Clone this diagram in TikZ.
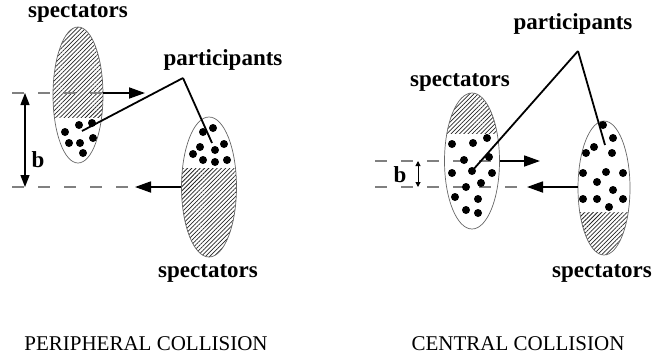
\documentclass[tikz,border=0pt]{standalone}
\usepackage{fontspec}
\setmainfont{Liberation Serif}
\usetikzlibrary{shapes.geometric, patterns.meta, arrows.meta}

\tikzset{
  nucleus/.style={ellipse, draw=black!60, line width=0.7pt, inner sep=0pt},
  hatch/.style={pattern={Lines[angle=45,distance=3pt,line width=0.75pt]}, pattern color=black!85},
  hatchtop/.style={path picture={\path[hatch] (path picture bounding box.north west) rectangle ([yshift=#1]path picture bounding box.east);}},
  hatchbot/.style={path picture={\path[hatch] ([yshift=#1]path picture bounding box.west) rectangle (path picture bounding box.south east);}},
  guide/.style={draw=black!50, line width=1.4pt, dash pattern=on 12pt off 14pt},
  beam/.style={draw, line width=1.8pt, -{Triangle[length=16pt,width=11pt]}},
  gap/.style={draw, line width=1.3pt, {Triangle[length=12pt,width=9pt]}-{Triangle[length=12pt,width=9pt]}},
  smallgap/.style={draw, line width=1pt, {Triangle[length=5pt,width=5pt]}-{Triangle[length=5pt,width=5pt]}},
  pointer/.style={draw, line width=1.8pt},
  lbl/.style={font=\bfseries\fontsize{23}{26}\selectfont, inner sep=0pt, anchor=base},
  caption/.style={font=\fontsize{21}{24}\selectfont, inner sep=0pt, anchor=base},
  nucleon/.style={fill=black}
}

\begin{document}
\begin{tikzpicture}[x=1pt, y=-1pt]
\useasboundingbox (0,0) rectangle (655,360);

% ---------- peripheral collision ----------
\coordinate (pA) at (12,93);
\coordinate (pB) at (12,187);
\coordinate (pAhead) at (145,93);
\coordinate (pBhead) at (135,187);
\coordinate (pgapTop) at (25,93);
\coordinate (pgapBot) at (25,187);

\node[nucleus, hatchtop=-22pt, minimum width=50pt, minimum height=136pt] (pa) at (78,95) {};
\node[nucleus, hatchbot=19pt, minimum width=55pt, minimum height=140pt] (pb) at (209,187) {};

\draw[guide] (pA) -- (pa.east |- pA);
\draw[guide] (pB) -- (pBhead);
\draw[beam] (pa.east |- pA) -- (pAhead);
\draw[beam] (pb.west |- pB) -- (pBhead);
\draw[gap] (pgapTop) -- (pgapBot);
\node[lbl] (pbval) at (38,167) {b};

\foreach \p in {(65,132),(79,125),(92,123),(69,143),(80,143),(93,138),(83,153)}
  \fill[nucleon] \p circle (4pt);
\foreach \p in {(203,132),(213,128),(200,147),(215,150),(224,144),(193,154),(203,160),(215,162),(227,160)}
  \fill[nucleon] \p circle (4pt);

\node[lbl] (pspecA) at (78,17) {spectators};
\node[lbl] (pspecB) at (208,277) {spectators};
\node[lbl] (ppart) at (223,65) {participants};
\coordinate (pfoot) at (183,78);
\coordinate (phitA) at (82,131);
\coordinate (phitB) at (212,143);
\draw[pointer] (pfoot) -- (phitA);
\draw[pointer] (pfoot) -- (phitB);

\node[caption] (pcap) at (146,350) {PERIPHERAL COLLISION};

% ---------- central collision ----------
\coordinate (cA) at (375,161);
\coordinate (cB) at (375,187);
\coordinate (cAhead) at (540,161);
\coordinate (cBhead) at (527,187);
\coordinate (cgapTop) at (418,161);
\coordinate (cgapBot) at (418,187);

\node[nucleus, hatchtop=28pt, minimum width=55pt, minimum height=136pt] (ca) at (472,161) {};
\node[nucleus, hatchbot=-24pt, minimum width=52pt, minimum height=134pt] (cb) at (604,188) {};

\draw[guide] (cA) -- (ca.east |- cA);
\draw[guide] (cB) -- (cBhead);
\draw[beam] (ca.east |- cA) -- (cAhead);
\draw[beam] (cb.west |- cB) -- (cBhead);
\draw[smallgap] (cgapTop) -- (cgapBot);
\node[lbl] (cbval) at (400,182) {b};

\foreach \p in {(452,144),(473,143),(487,138),(464,160),(489,157),(452,173),(472,171),(492,173),(466,187),(481,183),(455,197),(478,199),(466,210),(478,213)}
  \fill[nucleon] \p circle (4pt);
\foreach \p in {(603,125),(613,138),(594,147),(586,153),(612,153),(583,173),(606,172),(623,173),(597,182),(613,190),(583,199),(597,199),(609,207),(623,199)}
  \fill[nucleon] \p circle (4pt);

\node[lbl] (cspecA) at (460,86) {spectators};
\node[lbl] (cspecB) at (602,277) {spectators};
\node[lbl] (cpart) at (573,29) {participants};
\coordinate (cfoot) at (578,51);
\coordinate (chitA) at (472,171);
\coordinate (chitB) at (605,145);
\draw[pointer] (cfoot) -- (chitA);
\draw[pointer] (cfoot) -- (chitB);

\node[caption] (ccap) at (518,350) {CENTRAL COLLISION};
\end{tikzpicture}
\end{document}
